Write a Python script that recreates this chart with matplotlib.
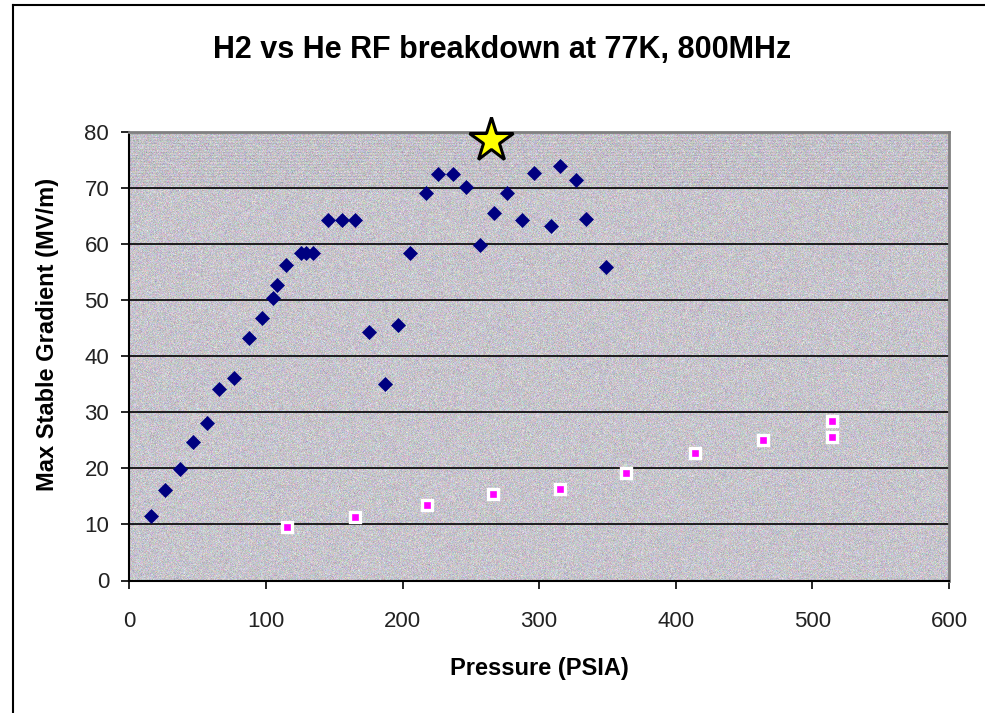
import numpy as np
import matplotlib.pyplot as plt
from matplotlib.lines import Line2D

# H2 breakdown points (pressure in PSIA, max stable gradient in MV/m)
h2_pressure = [15.9, 26.1, 36.8, 46.6, 56.9, 65.7, 76.6, 87.6, 97.1, 105.2,
               108.1, 114.7, 125.8, 129.7, 134.5, 145.2, 155.9, 165.2, 175.7, 187.2,
               196.5, 205.5, 217.2, 225.8, 237.2, 246.5, 256.7, 266.8, 276.7, 287.5,
               296.3, 308.5, 315.4, 327.0, 334.1, 349.0]
h2_gradient = [11.5, 16.2, 19.9, 24.7, 28.1, 34.2, 36.2, 43.3, 46.9, 50.4,
               52.8, 56.3, 58.4, 58.4, 58.4, 64.4, 64.4, 64.4, 44.4, 35.1,
               45.6, 58.4, 69.1, 72.6, 72.6, 70.2, 59.8, 65.6, 69.1, 64.4,
               72.7, 63.3, 73.9, 71.5, 64.5, 56.0]

# He breakdown points
he_pressure = [115.2, 165.2, 217.7, 266.5, 315.4, 363.8, 414.1, 464.1, 514.6, 514.6]
he_gradient = [9.6, 11.3, 13.4, 15.4, 16.4, 19.1, 22.8, 25.0, 25.7, 28.5]

# best H2 point
star_pressure = [264.4]
star_gradient = [78.7]

title = 'H2 vs He RF breakdown at 77K, 800MHz'
xlabel = 'Pressure (PSIA)'
ylabel = 'Max Stable Gradient (MV/m)'
xticks = [0, 100, 200, 300, 400, 500, 600]
yticks = [0, 10, 20, 30, 40, 50, 60, 70, 80]

plt.rcParams['font.family'] = ['Liberation Sans', 'DejaVu Sans']

fig = plt.figure(figsize=(9.85, 7.13), dpi=100)
ax = fig.add_axes([129.3 / 985, 1 - 580.5 / 713, (949 - 129.3) / 985, (580.5 - 132.3) / 713])

# granite-style plot area fill
rng = np.random.default_rng(3)
h, w = 450, 820
base = np.array([0.78, 0.77, 0.80])
tex = base + rng.normal(0, 0.045, (h, w, 3))
tex += rng.normal(0, 0.03, (h, w, 1))
tex[:60:3] -= 0.04
tex = np.clip(tex, 0, 1)
ax.imshow(tex, extent=[0, 600, 0, 80], aspect='auto', interpolation='nearest', zorder=0)

for yv in yticks[1:-1]:
    ax.axhline(yv, color='black', lw=1.2, zorder=1)

ax.plot(h2_pressure, h2_gradient, linestyle='none', marker='D', ms=7,
        color='#000080', mec='#000080', mew=0.5, zorder=3)
ax.plot(he_pressure, he_gradient, linestyle='none', marker='s', ms=6.7,
        color='#FF00FF', mec='white', mew=2.4, zorder=3)
ax.plot(star_pressure, star_gradient, linestyle='none', marker='*', ms=33,
        color='#FFFF00', mec='black', mew=2.2, zorder=4, clip_on=False)

ax.set_xlim(0, 600)
ax.set_ylim(0, 80)
ax.set_xticks(xticks)
ax.set_yticks(yticks)
ax.tick_params(axis='x', direction='out', length=6, width=1.2, pad=16, labelsize=16, colors='black')
ax.tick_params(axis='y', direction='out', length=5.5, width=1.2, pad=9, labelsize=16, colors='black')
for lbl in ax.get_xticklabels() + ax.get_yticklabels():
    lbl.set_color('#222222')

ax.spines['left'].set_color('black')
ax.spines['bottom'].set_color('black')
ax.spines['left'].set_linewidth(1.5)
ax.spines['bottom'].set_linewidth(1.5)
ax.spines['top'].set_color('#808080')
ax.spines['right'].set_color('#808080')
ax.spines['top'].set_linewidth(2)
ax.spines['right'].set_linewidth(2)

ax.set_xlabel(xlabel, fontsize=17, fontweight='bold', labelpad=18)
fig.text(48 / 985, 1 - 334 / 713, ylabel, rotation=90, fontsize=17, fontweight='bold',
         ha='center', va='center')
fig.text(502 / 985, 1 - 50 / 713, title, fontsize=22, fontweight='bold', ha='center', va='center')

# chart frame (left and top edges)
fig.add_artist(Line2D([13 / 985, 13 / 985], [0, 1 - 5 / 713], color='black', lw=1.5))
fig.add_artist(Line2D([13 / 985, 1], [1 - 5 / 713, 1 - 5 / 713], color='black', lw=1.5))

fig.savefig('out.png', dpi=100)
